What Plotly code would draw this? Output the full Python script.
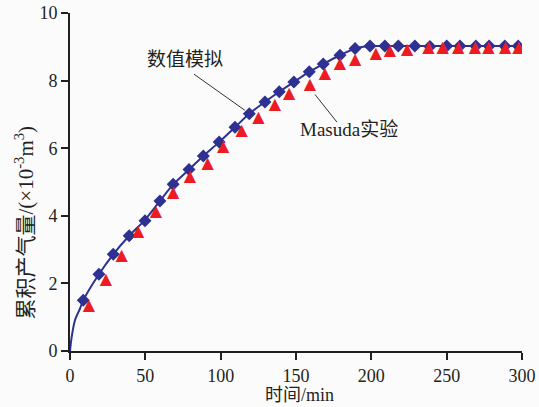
import plotly.graph_objects as go

# Numerical simulation (diamonds)
sim_x = [8.8, 19.2, 28.7, 39.3, 49.8, 59.7, 68.5, 79, 88.5, 99, 109.5, 119, 129.4, 138.9,
         148.6, 158.8, 168.1, 179.2, 189.2, 199.1, 209, 217.9, 228.9, 238.9, 250, 258.8,
         269.4, 278.2, 288.6, 297.5]
sim_y = [1.50, 2.27, 2.86, 3.41, 3.85, 4.44, 4.93, 5.37, 5.77, 6.18, 6.62, 7.02, 7.37, 7.67,
         7.96, 8.26, 8.49, 8.75, 8.95, 9.02, 9.02, 9.02, 9.02, 9.01, 9.02, 9.02,
         9.02, 9.02, 9.02, 9.02]

# Masuda experiment (triangles)
exp_x = [12.6, 23.9, 34.3, 45.3, 57, 68.5, 79.6, 91.4, 101.7, 113.9, 125, 136, 145.5,
         159.3, 169.2, 179.2, 189.3, 203, 212.3, 223.8, 237.8, 247.3, 257.7, 268.8,
         277.7, 288.9, 297.7]
exp_y = [1.32, 2.09, 2.80, 3.52, 4.11, 4.67, 5.15, 5.54, 6.04, 6.50, 6.88, 7.27, 7.59,
         7.86, 8.21, 8.48, 8.62, 8.78, 8.87, 8.92, 8.95, 8.95, 8.95, 8.97,
         8.97, 8.97, 8.97]

# Simulation curve
curve_x = [0, 1.1, 3.3, 6.6, 8.8, 19.2, 28.7, 39.3, 49.8, 59.7, 68.5, 79, 88.5, 99, 109.5,
           119, 129.4, 138.9, 148.6, 158.8, 168.1, 179.2, 189.2, 199.1, 210, 300]
curve_y = [0, 0.41, 0.91, 1.25, 1.50, 2.27, 2.86, 3.41, 3.88, 4.44, 4.93, 5.37, 5.77, 6.18,
           6.62, 7.02, 7.37, 7.67, 7.96, 8.26, 8.49, 8.75, 8.95, 9.02, 9.02, 9.02]

x_ticks = [0, 50, 100, 150, 200, 250, 300]
y_ticks = [0, 2, 4, 6, 8, 10]

NAVY = "#2E3192"
RED = "#ED1C24"
INK = "#231F20"
SERIF = "Liberation Serif, Noto Sans CJK SC, serif"
CJK = "Noto Sans CJK SC, Liberation Serif, sans-serif"
BG = "#FBFBFB"

fig = go.Figure()
fig.add_trace(go.Scatter(x=curve_x, y=curve_y, mode="lines",
                         line=dict(color=NAVY, width=2, shape="spline", smoothing=0.8),
                         hoverinfo="skip", showlegend=False))
fig.add_trace(go.Scatter(x=sim_x, y=sim_y, mode="markers",
                         marker=dict(symbol="diamond", size=10, color=NAVY),
                         name="数值模拟", showlegend=False))
fig.add_trace(go.Scatter(x=exp_x, y=exp_y, mode="text", text=["▲"] * len(exp_x),
                         textposition="middle center",
                         textfont=dict(family="DejaVu Sans", size=16, color=RED),
                         name="Masuda实验", showlegend=False))

# leader lines
fig.add_shape(type="line", x0=82.3, y0=8.19, x1=116.1, y1=7.12, xref="x", yref="y",
              line=dict(color="#333333", width=1))
fig.add_shape(type="line", x0=162.6, y0=7.59, x1=177.2, y1=6.77, xref="x", yref="y",
              line=dict(color="#333333", width=1))

fig.add_annotation(x=76.3, y=8.69, xref="x", yref="y", text="数值模拟", showarrow=False,
                   font=dict(family=CJK, size=19, color=INK))
fig.add_annotation(x=185.1, y=6.56, xref="x", yref="y", text="Masuda实验", showarrow=False,
                   font=dict(family=SERIF, size=19, color=INK))

fig.add_annotation(x=0.508, y=-0.131, xref="paper", yref="paper", text="时间/min",
                   showarrow=False, xanchor="center", yanchor="middle",
                   font=dict(family=SERIF, size=18, color=INK))
fig.add_annotation(x=-0.0996, y=0.38, xref="paper", yref="paper",
                   text="累积产气量/(×10<sup>-3</sup>m<sup>3</sup>)", textangle=-90,
                   showarrow=False, xanchor="center", yanchor="middle",
                   font=dict(family=SERIF, size=21, color=INK))

fig.update_xaxes(range=[0, 300], tickvals=x_ticks, ticktext=[str(v) for v in x_ticks],
                 showgrid=False, zeroline=False, showline=True, linecolor=INK, linewidth=2,
                 ticks="outside", ticklen=7, tickwidth=2, tickcolor=INK, automargin=False,
                 tickfont=dict(family=SERIF, size=18, color=INK))
fig.update_yaxes(range=[0, 10], tickvals=y_ticks, ticktext=[str(v) for v in y_ticks],
                 showgrid=False, zeroline=False, showline=True, linecolor=INK, linewidth=2,
                 ticks="outside", ticklen=7, tickwidth=2, tickcolor=INK, automargin=False,
                 tickfont=dict(family=SERIF, size=18, color=INK))

fig.update_layout(width=539, height=407, margin=dict(l=70, r=17, t=13, b=56),
                  paper_bgcolor=BG, plot_bgcolor=BG, showlegend=False)

fig.write_html("out.html")
